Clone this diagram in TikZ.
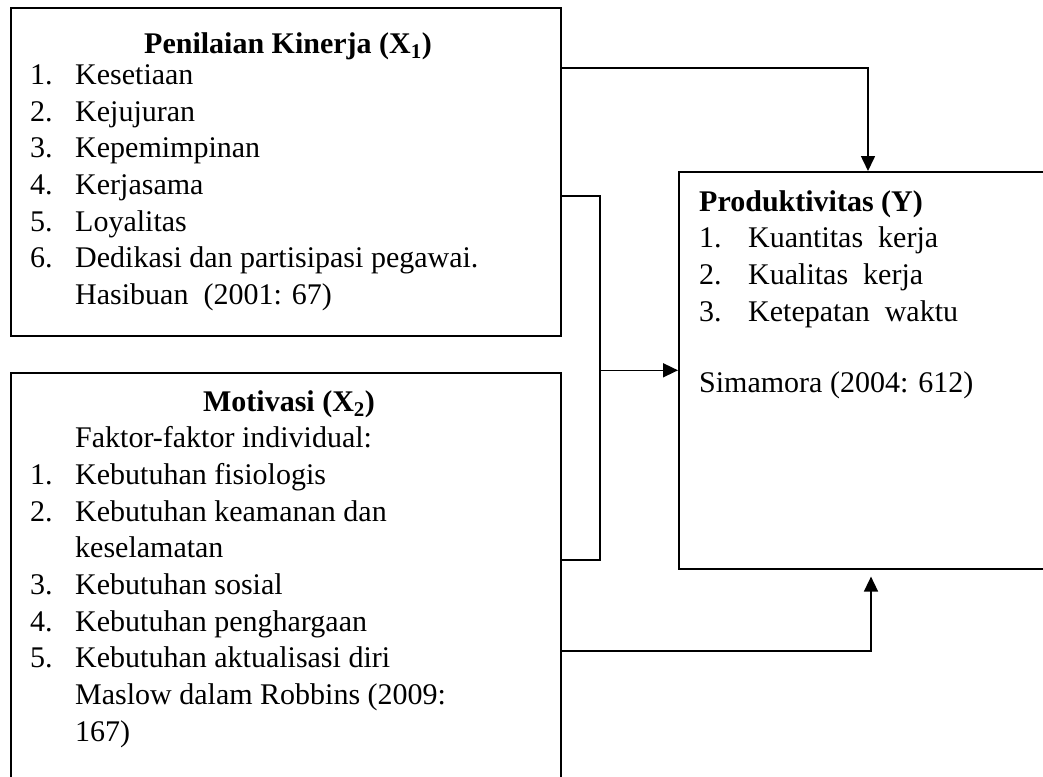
\documentclass[tikz,border=0pt]{standalone}
\usepackage{fontspec}
\setmainfont{Liberation Serif}
\usetikzlibrary{arrows.meta}
\newcommand{\itm}[2]{\makebox[#1][l]{#2}}
\begin{document}
\begin{tikzpicture}[x=1pt,y=-1pt,
  box/.style={draw, line width=1.6pt, rectangle, inner sep=0pt, anchor=north west},
  txt/.style={anchor=base west, inner sep=0pt, font=\fontsize{30pt}{36pt}\selectfont},
  ttl/.style={anchor=base, inner sep=0pt, font=\fontsize{30pt}{36pt}\selectfont\bfseries},
  link/.style={line width=1.6pt},
  arr/.style={link, -{Triangle[length=15pt,width=14pt]}}]
\clip (0,0) rectangle (1043,776);
% boxes
\node[box, minimum width=550pt, minimum height=328pt] (b1) at (10,7) {};
\node[box, minimum width=550pt, minimum height=430pt] (b2) at (10,372) {};
\node[box, minimum width=382pt, minimum height=397pt] (b3) at (678,171) {};
% box 1 text
\node[ttl] (t1) at (288,53) {Penilaian Kinerja (X\textsubscript{1})};
\node[txt] (t1a) at (30,84) {\itm{45pt}{1.}Kesetiaan};
\node[txt] (t1b) at (30,121) {\itm{45pt}{2.}Kejujuran};
\node[txt] (t1c) at (30,157) {\itm{45pt}{3.}Kepemimpinan};
\node[txt] (t1d) at (30,194) {\itm{45pt}{4.}Kerjasama};
\node[txt] (t1e) at (30,231) {\itm{45pt}{5.}Loyalitas};
\node[txt] (t1f) at (30,267) {\itm{45pt}{6.}Dedikasi dan partisipasi pegawai.};
\node[txt] (t1g) at (75,304) {Hasibuan\ \ (2001: 67)};
% box 2 text
\node[ttl] (t2) at (289,411) {Motivasi (X\textsubscript{2})};
\node[txt] (t2z) at (75,447) {Faktor-faktor individual:};
\node[txt] (t2a) at (30,484) {\itm{45pt}{1.}Kebutuhan fisiologis};
\node[txt] (t2b) at (30,521) {\itm{45pt}{2.}Kebutuhan keamanan dan};
\node[txt] (t2c) at (75,557) {keselamatan};
\node[txt] (t2d) at (30,594) {\itm{45pt}{3.}Kebutuhan sosial};
\node[txt] (t2e) at (30,631) {\itm{45pt}{4.}Kebutuhan penghargaan};
\node[txt] (t2f) at (30,667) {\itm{45pt}{5.}Kebutuhan aktualisasi diri};
\node[txt] (t2g) at (75,704) {Maslow dalam Robbins (2009:};
\node[txt] (t2h) at (75,741) {167)};
% box 3 text
\node[txt, font=\fontsize{30pt}{36pt}\selectfont\bfseries] (t3) at (699,211) {Produktivitas (Y)};
\node[txt] (t3a) at (699,247) {\itm{49pt}{1.}Kuantitas\ \ kerja};
\node[txt] (t3b) at (699,284) {\itm{49pt}{2.}Kualitas\ \ kerja};
\node[txt] (t3c) at (699,321) {\itm{49pt}{3.}Ketepatan\ \ waktu};
\node[txt] (t3d) at (699,392) {Simamora (2004: 612)};
% connectors
\coordinate (j1) at (868,68);
\coordinate (j2a) at (600,196);
\coordinate (j2b) at (600,560);
\coordinate (j3) at (871,651);
\draw[arr] (b1.east |- j1) -| (b3.north -| j1);
\draw[link] (b1.east |- j2a) -- (j2a) -- (j2b) -- (b2.east |- j2b);
\draw[arr] (j2a |- b3.west) -- (b3.west);
\draw[arr, shorten >=7pt] (b2.east |- j3) -| (b3.south -| j3);
\end{tikzpicture}
\end{document}
